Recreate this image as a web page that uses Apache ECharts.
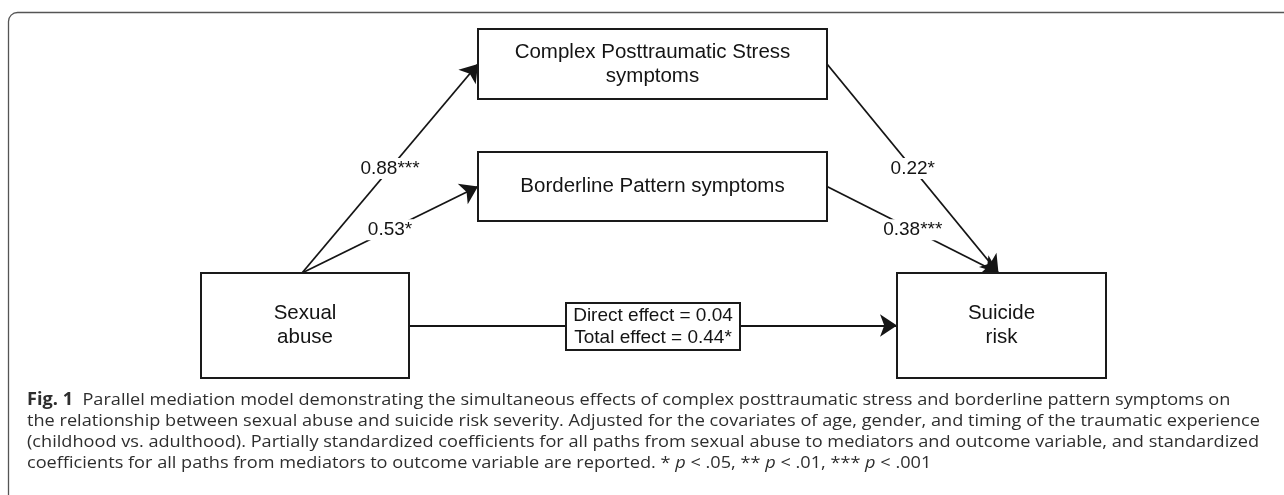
<!DOCTYPE html>
<html>
<head>
<meta charset="utf-8">
<script src="https://cdn.jsdelivr.net/npm/echarts@6/dist/echarts.min.js"></script>
<style>
  html, body { margin: 0; padding: 0; background: #fff; }
  #main { width: 1284px; height: 495px; }
</style>
</head>
<body>
<div id="main"></div>
<script>
// model contents
const boxLabels = ['Complex Posttraumatic Stress\nsymptoms', 'Borderline Pattern symptoms', 'Sexual\nabuse', 'Suicide\nrisk']
const pathFrom = [2, 2, 0, 1]
const pathTo = [0, 1, 3, 3]
const coefficients = ['0.88***', '0.53*', '0.22*', '0.38***']
const effectLines = ['Direct effect = 0.04', 'Total effect = 0.44*']
const captionLines = [
  '{b|Fig. 1}  Parallel mediation model demonstrating the simultaneous effects of complex posttraumatic stress and borderline pattern symptoms on',
  'the relationship between sexual abuse and suicide risk severity. Adjusted for the covariates of age, gender, and timing of the traumatic experience',
  '(childhood vs. adulthood). Partially standardized coefficients for all paths from sexual abuse to mediators and outcome variable, and standardized',
  'coefficients for all paths from mediators to outcome variable are reported. * {i|p} < .05, ** {i|p} < .01, *** {i|p} < .001'
]

// layout in pixels (x0, y0, x1, y1)
const boxRects = [[478, 29, 827, 99], [478, 152, 827, 221], [201, 273, 409, 378], [897, 273, 1106, 378]]
const pathFromSide = ['top', 'top', 'right', 'right']
const pathToSide = ['left', 'left', 'top', 'top']
const effectRect = [566, 303, 740, 350]
const captionY = [400, 421, 442, 463]

function anchor(r, side) {
  const cx = (r[0] + r[2]) / 2
  const cy = (r[1] + r[3]) / 2
  if (side === 'top') return [cx - 3, r[1]]
  if (side === 'left') return [r[0], cy]
  return [r[2], cy]
}

const pathLines = []
const coefLabels = []
pathFrom.forEach((f, i) => {
  const a = anchor(boxRects[f], pathFromSide[i])
  const b = anchor(boxRects[pathTo[i]], pathToSide[i])
  pathLines.push({ coords: [a, b] })
  coefLabels.push([(a[0] + b[0]) / 2, (a[1] + b[1]) / 2, coefficients[i]])
})
// direct path, sexual abuse -> suicide risk
pathLines.push({ coords: [anchor(boxRects[2], 'right'), anchor(boxRects[3], 'left')] })

const boxData = boxLabels.map((t, i) => boxRects[i].concat([t, 20.5, 24]))
boxData.push(effectRect.concat([effectLines.join('\n'), 19, 22]))

// caption: squeeze horizontally to the original line width
const ctx = document.createElement('canvas').getContext('2d')
ctx.font = '17px "Open Sans"'
const capScale = 1233 / ctx.measureText(captionLines[1]).width

const myChart = echarts.init(document.getElementById('main'))
const option = {
  animation: false,
  grid: { left: 0, right: 0, top: 0, bottom: 0, outerBoundsMode: 'none' },
  xAxis: { type: 'value', min: 0, max: 1284, show: false },
  yAxis: { type: 'value', min: 0, max: 495, inverse: true, show: false },
  graphic: [
    {
      type: 'rect',
      silent: true,
      z: -1,
      shape: { x: 8.5, y: 12.5, width: 1400, height: 600, r: 9 },
      style: { fill: 'none', stroke: '#555', lineWidth: 1.3 }
    }
  ].concat(captionLines.map((t, i) => ({
    type: 'text',
    silent: true,
    x: 27,
    y: captionY[i],
    scaleX: capScale,
    style: {
      text: t,
      fontSize: 17,
      fontFamily: 'Open Sans',
      fill: '#2e2e2e',
      verticalAlign: 'middle',
      rich: {
        b: { fontSize: 17, fontFamily: 'Open Sans', fontWeight: 'bold', fill: '#2e2e2e' },
        i: { fontSize: 17, fontFamily: 'Open Sans', fontStyle: 'italic', fill: '#2e2e2e' }
      }
    }
  }))),
  series: [
    {
      type: 'lines',
      coordinateSystem: 'cartesian2d',
      silent: true,
      z: 2,
      symbol: ['none', 'arrow'],
      symbolSize: 17,
      lineStyle: { color: '#151515', width: 1.8, opacity: 1 },
      data: pathLines
    },
    {
      // boxes
      type: 'custom',
      silent: true,
      z: 3,
      data: boxData,
      renderItem: function(params, api) {
        const p0 = api.coord([api.value(0), api.value(1)])
        const p1 = api.coord([api.value(2), api.value(3)])
        return {
          type: 'rect',
          shape: { x: p0[0], y: p0[1], width: p1[0] - p0[0], height: p1[1] - p0[1] },
          style: { fill: '#fff', stroke: '#1a1a1a', lineWidth: 2 },
          textContent: {
            style: {
              text: api.value(4),
              fontFamily: 'Liberation Sans',
              fontSize: api.value(5),
              lineHeight: api.value(6),
              fill: '#141414',
              align: 'center',
              verticalAlign: 'middle'
            }
          },
          textConfig: { position: 'inside' }
        }
      }
    },
    {
      // path coefficients
      type: 'custom',
      silent: true,
      z: 4,
      data: coefLabels,
      renderItem: function(params, api) {
        const p = api.coord([api.value(0), api.value(1)])
        return {
          type: 'text',
          x: p[0],
          y: p[1],
          style: {
            text: api.value(2),
            fontFamily: 'Liberation Sans',
            fontSize: 19,
            fill: '#141414',
            align: 'center',
            verticalAlign: 'middle',
            backgroundColor: '#fff',
            padding: [1, 1]
          }
        }
      }
    }
  ]
}
option && myChart.setOption(option)
</script>
</body>
</html>
